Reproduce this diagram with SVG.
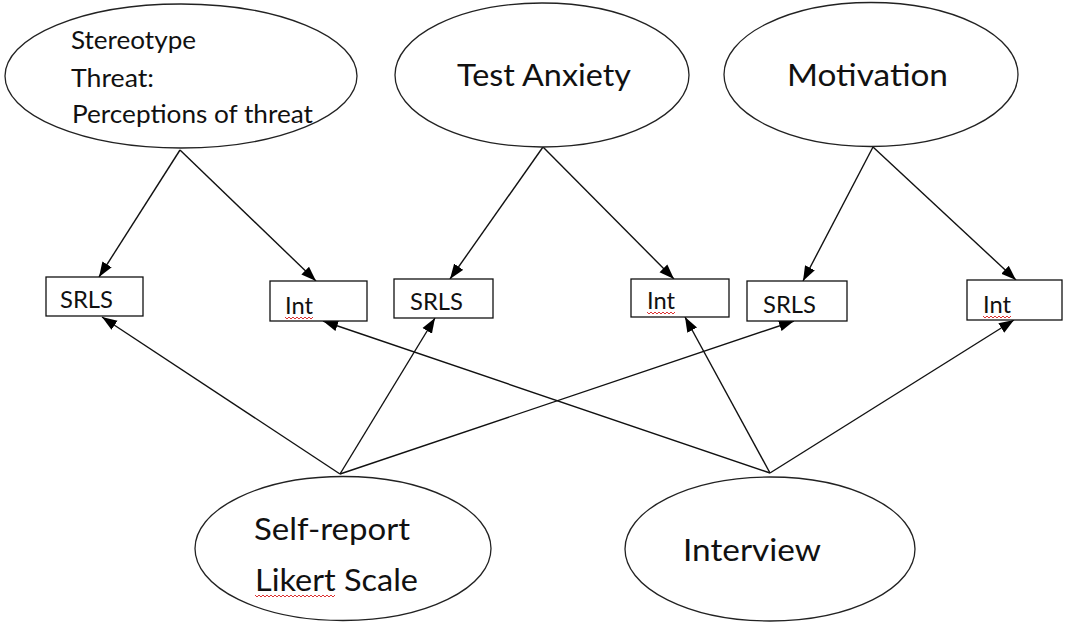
<svg xmlns="http://www.w3.org/2000/svg" width="1067" height="623" viewBox="0 0 1067 623">
<style>
.node ellipse{fill:#fff;stroke:#222;stroke-width:1.3}
.node rect{fill:#fff;stroke:#111;stroke-width:1.3}
text{font-family:Lato,"Liberation Sans",sans-serif;fill:#111}
.big{font-size:31.5px}
.mid{font-size:25px}
.small{font-size:23px}
.conn line{stroke:#111;stroke-width:1.4;marker-end:url(#arr)}
.sq{fill:none;stroke:#d33;stroke-width:1}
</style>
<defs>
<marker id="arr" markerUnits="userSpaceOnUse" markerWidth="16" markerHeight="12" refX="15" refY="5.5" orient="auto" viewBox="0 0 16 11">
<path d="M0,0 L15,5.5 L0,11 z" fill="#000"/>
</marker>
</defs>
<rect width="1067" height="623" fill="#fff"/>
<g id="connectors" class="conn">
<line x1="180" y1="150" x2="99" y2="277"/>
<line x1="180" y1="150" x2="316" y2="281"/>
<line x1="543" y1="147" x2="450" y2="279"/>
<line x1="543" y1="147" x2="674" y2="279"/>
<line x1="873" y1="147" x2="803" y2="281"/>
<line x1="873" y1="147" x2="1016" y2="280"/>
<line x1="340" y1="474" x2="102" y2="317"/>
<line x1="340" y1="474" x2="435" y2="318"/>
<line x1="340" y1="474" x2="794" y2="321"/>
<line x1="770" y1="473" x2="323" y2="321"/>
<line x1="770" y1="473" x2="685" y2="317"/>
<line x1="770" y1="473" x2="1014" y2="320"/>
</g>
<g id="stereotype" class="node">
<ellipse cx="181" cy="76" rx="176" ry="72"/>
<text class="mid" x="71" y="49" textLength="125" lengthAdjust="spacingAndGlyphs">Stereotype</text>
<text class="mid" x="71" y="87" textLength="83" lengthAdjust="spacingAndGlyphs">Threat:</text>
<text class="mid" x="72" y="123" textLength="241" lengthAdjust="spacingAndGlyphs">Perceptions of threat</text>
</g>
<g id="test-anxiety" class="node">
<ellipse cx="542" cy="75" rx="147" ry="72"/>
<text class="big" x="457" y="86" textLength="174" lengthAdjust="spacingAndGlyphs">Test Anxiety</text>
</g>
<g id="motivation" class="node">
<ellipse cx="871" cy="74.5" rx="147" ry="72"/>
<text class="big" x="787" y="86" textLength="161" lengthAdjust="spacingAndGlyphs">Motivation</text>
</g>
<g id="srls1" class="node">
<rect x="46" y="277" width="97" height="39"/>
<text class="small" x="60" y="308" textLength="53" lengthAdjust="spacingAndGlyphs">SRLS</text>
</g>
<g id="int1" class="node">
<rect x="270" y="281" width="97" height="40"/>
<text class="small" x="285" y="314" textLength="28" lengthAdjust="spacingAndGlyphs">Int</text>
<path class="sq" d="M285,317 l2,2 l2,-2 l2,2 l2,-2 l2,2 l2,-2 l2,2 l2,-2 l2,2 l2,-2 l2,2 l2,-2 l2,2 l2,-2"/>
</g>
<g id="srls2" class="node">
<rect x="394" y="279" width="99" height="39"/>
<text class="small" x="410" y="310" textLength="53" lengthAdjust="spacingAndGlyphs">SRLS</text>
</g>
<g id="int2" class="node">
<rect x="631" y="279" width="98" height="38"/>
<text class="small" x="647" y="309" textLength="28" lengthAdjust="spacingAndGlyphs">Int</text>
<path class="sq" d="M647,312 l2,2 l2,-2 l2,2 l2,-2 l2,2 l2,-2 l2,2 l2,-2 l2,2 l2,-2 l2,2 l2,-2 l2,2 l2,-2"/>
</g>
<g id="srls3" class="node">
<rect x="747" y="281" width="100" height="40"/>
<text class="small" x="763" y="313" textLength="53" lengthAdjust="spacingAndGlyphs">SRLS</text>
</g>
<g id="int3" class="node">
<rect x="967" y="280" width="95" height="40"/>
<text class="small" x="983" y="313" textLength="28" lengthAdjust="spacingAndGlyphs">Int</text>
<path class="sq" d="M983,316 l2,2 l2,-2 l2,2 l2,-2 l2,2 l2,-2 l2,2 l2,-2 l2,2 l2,-2 l2,2 l2,-2 l2,2 l2,-2"/>
</g>
<g id="self-report" class="node">
<ellipse cx="343" cy="548.5" rx="148" ry="72"/>
<text class="big" x="254" y="540" textLength="156" lengthAdjust="spacingAndGlyphs">Self-report</text>
<text class="big" x="255" y="591" textLength="163" lengthAdjust="spacingAndGlyphs">Likert Scale</text>
<path class="sq" d="M255,595 l2,2 l2,-2 l2,2 l2,-2 l2,2 l2,-2 l2,2 l2,-2 l2,2 l2,-2 l2,2 l2,-2 l2,2 l2,-2 l2,2 l2,-2 l2,2 l2,-2 l2,2 l2,-2 l2,2 l2,-2 l2,2 l2,-2 l2,2 l2,-2 l2,2 l2,-2 l2,2 l2,-2 l2,2 l2,-2 l2,2 l2,-2 l2,2 l2,-2 l2,2 l2,-2 l2,2 l2,-2"/>
</g>
<g id="interview" class="node">
<ellipse cx="770" cy="549" rx="145" ry="72"/>
<text class="big" x="683" y="561" textLength="138" lengthAdjust="spacingAndGlyphs">Interview</text>
</g>
</svg>
